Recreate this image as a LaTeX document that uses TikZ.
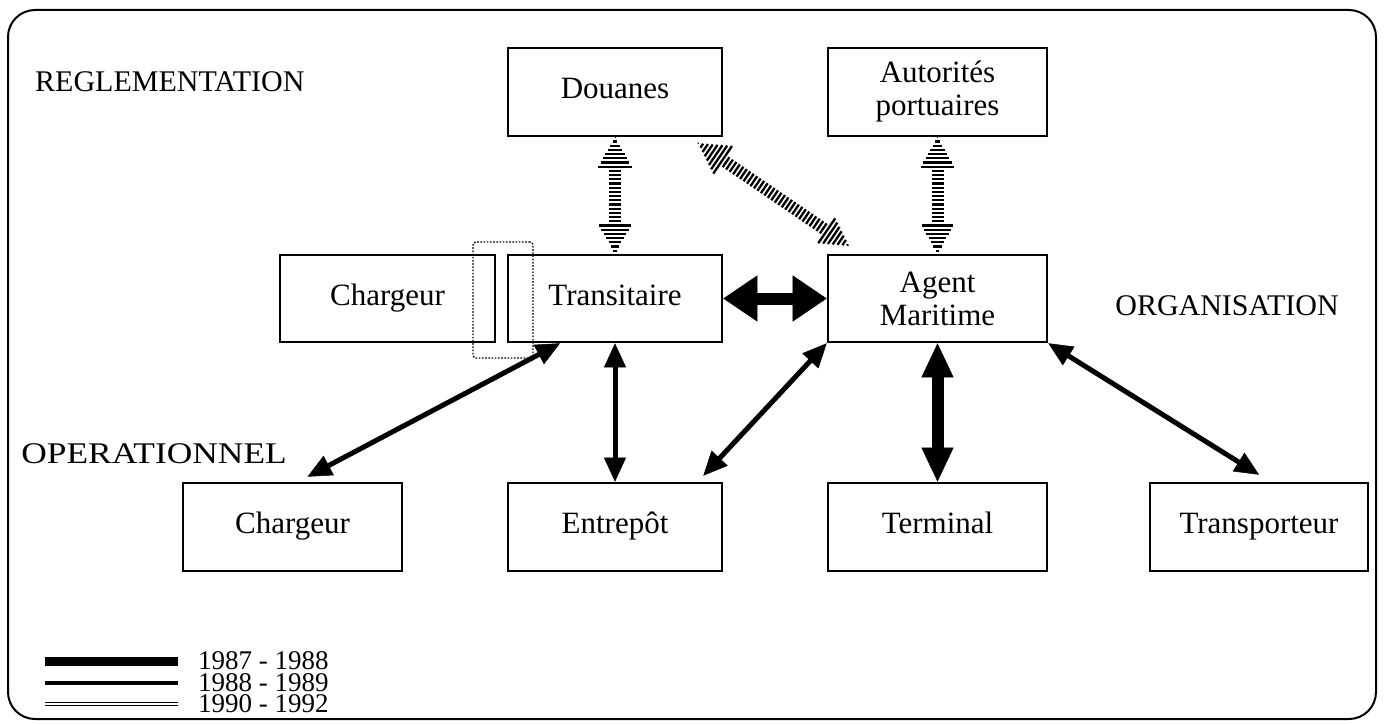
\documentclass[tikz,border=0pt]{standalone}
\usepackage{fontspec}
\setmainfont{Liberation Serif}
\usetikzlibrary{arrows.meta,decorations.markings,calc}
\begin{document}
\begin{tikzpicture}[x=1pt,y=-1pt,
  box/.style={draw, line width=2.6pt, inner sep=0pt, align=center,
    font=\fontsize{31}{33}\selectfont},
  lbl/.style={inner sep=0pt, font=\fontsize{30}{33}\selectfont},
  leg/.style={inner sep=0pt, anchor=west, font=\fontsize{27}{29}\selectfont},
  medarr/.style={line width=5pt,
    {Triangle[length=24pt,width=22pt,line width=0.5pt]}-{Triangle[length=24pt,width=22pt,line width=0.5pt]}},
  thickarr/.style={line width=12pt,
    {Triangle[length=34pt,width=#1,line width=0.5pt]}-{Triangle[length=34pt,width=#1,line width=0.5pt]}},
  thickarr/.default=40pt,
  hatcharrow/.style={
    decoration={markings,
      mark=between positions 0 and 1 step 4.2pt with {
        \pgfmathsetmacro\hdd{\pgfkeysvalueof{/pgf/decoration/mark info/distance from start}}
        \pgfmathsetmacro\hLL{\pgfdecoratedpathlength}
        \pgfmathsetmacro\hww{max(0.3,ifthenelse(\hdd<30,17*\hdd/30,ifthenelse(\hdd>\hLL-30,17*(\hLL-\hdd)/30,6)))}
        \draw[line width=2.3pt] (0pt,{-\hww*1pt}) -- (0pt,{\hww*1pt});
      }},
    postaction={decorate}}
]
\useasboundingbox (0,0) rectangle (1384,725);
\draw[line width=2pt, rounded corners=27pt] (8,10) rectangle (1376,719);

% labels
\node[lbl, anchor=base west] (reg) at (35,92) {REGLEMENTATION};
\node[lbl, anchor=base] (org) at (1227,315) {ORGANISATION};
\node[lbl, anchor=base east, xscale=1.18, transform shape] (ope) at (287,463) {OPERATIONNEL};

% boxes
\node[box, minimum width=214pt, minimum height=88pt] (dou) at (615,92) {\strut Douanes};
\node[box, minimum width=219pt, minimum height=88pt] (aut) at (937.5,92) {Autorités\\portuaires};
\node[box, minimum width=215pt, minimum height=87pt] (cha1) at (387.5,298.5) {\strut Chargeur};
\node[box, minimum width=214pt, minimum height=87pt] (tra) at (615,298.5) {\strut Transitaire};
\node[box, minimum width=219pt, minimum height=87pt] (ag) at (937.5,298.5) {Agent\\Maritime};
\node[box, minimum width=219pt, minimum height=88pt] (cha2) at (292.5,527) {\strut Chargeur};
\node[box, minimum width=214pt, minimum height=88pt] (ent) at (615,527) {\strut Entrepôt};
\node[box, minimum width=219pt, minimum height=88pt] (ter) at (937.5,527) {\strut Terminal};
\node[box, minimum width=218pt, minimum height=88pt] (trp) at (1259,527) {\strut Transporteur};

% dotted selection frame
\node[draw, line width=1.4pt, dash pattern=on 1.6pt off 1.6pt, rounded corners=3pt,
  minimum width=60pt, minimum height=116pt, inner sep=0pt] (sel) at (503,300) {};

% hatched arrows (1990-1992)
\path[hatcharrow] (dou.south) -- (tra.north);
\path[hatcharrow] (aut.south) -- (ag.north);
\path[hatcharrow] ([xshift=-25pt,yshift=-6pt]dou.south east) -- ([xshift=22pt,yshift=8pt]ag.north west);

% thick arrows (1987-1988)
\draw[thickarr=46pt] (tra.east) -- (ag.west);
\draw[thickarr=32pt] (ag.south) -- (ter.north);

% medium arrows (1988-1989)
\draw[medarr] ([xshift=-55pt]tra.south) -- ([xshift=15pt,yshift=5pt]cha2.north);
\draw[medarr] (tra.south) -- (ent.north);
\draw[medarr] (ag.south west) -- ([xshift=-20pt,yshift=6pt]ent.north east);
\draw[medarr] (ag.south east) -- ([yshift=7pt]trp.north);

% legend
\draw[line width=9pt] (45,661) -- (178,661);
\draw[line width=4.5pt] (45,683) -- (178,683);
\draw[line width=1.6pt, double, double distance=1.6pt] (45,704) -- (178,704);
\node[leg] (l1) at (198,661) {1987 - 1988};
\node[leg] (l2) at (198,683) {1988 - 1989};
\node[leg] (l3) at (198,704) {1990 - 1992};
\end{tikzpicture}
\end{document}
